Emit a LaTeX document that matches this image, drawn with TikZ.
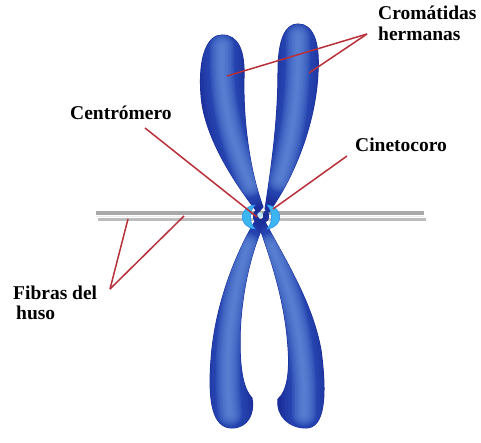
\documentclass[tikz,border=0pt]{standalone}
\usepackage{fontspec}
\setmainfont{Liberation Serif}
\definecolor{chromdark}{HTML}{1B2E9A}
\definecolor{chrommid}{HTML}{2F55BF}
\definecolor{chromlight}{HTML}{6A95DE}
\definecolor{kineto}{HTML}{3CB6F0}
\definecolor{pointerred}{HTML}{B8303A}
\definecolor{fibergray}{HTML}{A9A9A9}
\definecolor{fiberlight}{HTML}{BDBDBD}
% outlines of the four chromatid arms
\newcommand\armUL{(258,213) .. controls (240,190) and (204,140) .. (201,95) .. controls (198,55) and (208,35) .. (222,35) .. controls (238,35) and (245,50) .. (244,78) .. controls (243,122) and (250,172) .. (263,207) -- cycle}
\newcommand\armUR{(265,209) .. controls (271,170) and (278,122) .. (278,72) .. controls (278,40) and (285,24) .. (298,24) .. controls (312,24) and (320,40) .. (318,72) .. controls (316,122) and (295,176) .. (269,212) -- cycle}
\newcommand\armLL{(257,218) .. controls (240,245) and (215,300) .. (211,360) .. controls (208,400) and (212,428) .. (232,428) .. controls (248,428) and (255,413) .. (252,398) .. controls (244,390) and (240,372) .. (240,342) .. controls (240,300) and (250,252) .. (265,222) -- cycle}
\newcommand\armLR{(263,218) .. controls (282,255) and (312,300) .. (321,350) .. controls (327,395) and (325,428) .. (306,428) .. controls (289,428) and (276,416) .. (278,399) .. controls (287,392) and (290,372) .. (288,347) .. controls (285,302) and (272,262) .. (258,223) -- cycle}
\begin{document}
\begin{tikzpicture}[x=1pt,y=-1pt,
  lbl/.style={font=\bfseries\fontsize{19.5}{22}\selectfont, anchor=base west, inner sep=0pt, text=black},
  pointer/.style={draw=pointerred, line width=1.5pt},
  armfill/.style={fill=chromdark, draw=chromdark, line width=1pt},
  glowmid/.style={draw=chrommid, line cap=round, opacity=0.22},
  glowlight/.style={draw=chromlight, line cap=round, opacity=0.16},
  kinfill/.style={fill=kineto, draw=kineto!80!blue, line width=0.6pt}]
\useasboundingbox (0,0) rectangle (481,443);
\fill[white] (0,0) rectangle (481,443);

% spindle fibres
\draw[fibergray, line width=4pt] (96,213) -- (424,213);
\draw[fiberlight, line width=3.4pt] (98,219.5) -- (426,219.5);
\draw[white!85!gray, line width=1pt] (96,216.3) -- (424,216.3);

% chromatid arms: dark body with a soft lighter core
\foreach \arm/\ax in {\armUL/{(222,46) .. controls (220,110) and (236,150) .. (250,185)},
                      \armUR/{(298,36) .. controls (299,100) and (292,140) .. (280,180)},
                      \armLL/{(248,245) .. controls (230,300) and (224,360) .. (230,414)},
                      \armLR/{(271,245) .. controls (296,300) and (306,360) .. (304,414)}}{
  \path[armfill] \arm;
  \begin{scope}
    \clip \arm;
    \foreach \w in {44,38,32,27}{\draw[glowmid, line width=\w pt] \ax;}
    \foreach \w in {24,21,18,15,12,9,6,3}{\draw[glowlight, line width=\w pt] \ax;}
  \end{scope}
}

% kinetochores on both sides of the centromere
\path[kinfill] (255,205) .. controls (238,207) and (238,227) .. (255,229) .. controls (249,223) and (249,211) .. (255,205) -- cycle;
\path[kinfill] (267,205) .. controls (284,207) and (284,227) .. (267,229) .. controls (273,223) and (273,211) .. (267,205) -- cycle;
\fill[chromdark] (256,216) ellipse (3pt and 6pt);
\fill[chromdark] (266,216) ellipse (3pt and 6pt);
\fill[kineto!35!white] (260,215) circle (2.8pt);

% labels
\node[lbl] (crom) at (378,20) {Cromátidas};
\node[lbl] (herm) at (378,41) {hermanas};
\node[lbl] (centro) at (70,120) {Centrómero};
\node[lbl] (cineto) at (355,152) {Cinetocoro};
\node[lbl] (fibras) at (13,299) {Fibras del};
\node[lbl] (huso) at (16,319) {huso};

% pointer ends
\coordinate (cromhub) at (367,34);
\coordinate (tipUL) at (227,76);
\coordinate (tipUR) at (309,73);
\coordinate (centrostart) at (145,128);
\coordinate (centrotip) at (257,217);
\coordinate (cinetostart) at (347,156);
\coordinate (cinetotip) at (273,209);
\coordinate (fibhub) at (110,289);
\coordinate (fibtipA) at (128,219);
\coordinate (fibtipB) at (184,216);

% pointers
\draw[pointer] (cromhub) -- (tipUL);
\draw[pointer] (cromhub) -- (tipUR);
\draw[pointer] (centrostart) -- (centrotip);
\draw[pointer] (cinetostart) -- (cinetotip);
\draw[pointer] (fibhub) -- (fibtipA);
\draw[pointer] (fibhub) -- (fibtipB);
\end{tikzpicture}
\end{document}
